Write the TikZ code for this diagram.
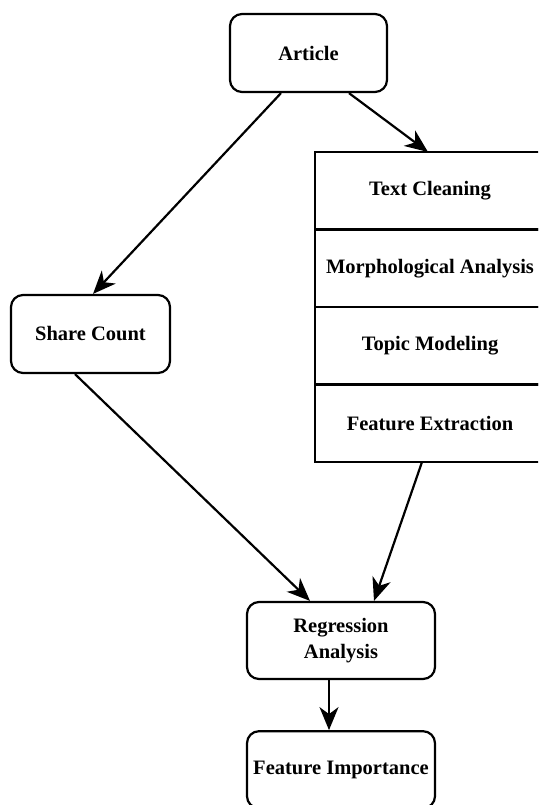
\documentclass[tikz,border=0pt]{standalone}
\usepackage{fontspec}
\setmainfont{Liberation Serif}
\usetikzlibrary{positioning,arrows.meta}

\begin{document}
\begin{tikzpicture}[
  x=1pt, y=-1pt, node distance=0pt, line width=2.2pt,
  font=\fontsize{20.5}{26}\selectfont\bfseries,
  >={Stealth[length=23pt,width=19pt,inset=7pt]},
  box/.style={draw, rounded corners=12pt, align=center, inner sep=0pt, minimum width=157pt, minimum height=78pt},
  wide/.style={box, minimum width=188pt, minimum height=77pt},
  stage/.style={draw, align=center, inner sep=0pt, outer sep=0pt, minimum width=230pt, minimum height=77.5pt},
]
\useasboundingbox (0,0) rectangle (538,805);
\clip (0,0) rectangle (538,805);

\node[box] (art) at (308.5,53) {Article};
\node[box, minimum width=159pt] (share) at (90.5,334) {Share Count};

% pipeline stack
\node[stage, anchor=north west] (clean) at (315,152) {Text Cleaning};
\node[stage, below=of clean] (morph) {Morphological Analysis};
\node[stage, below=of morph] (topic) {Topic Modeling};
\node[stage, below=of topic] (feat) {Feature Extraction};

\node[wide] (reg) at (341,640.5) {Regression\\Analysis};
\node[wide, below=50pt of reg] (imp) {Feature Importance};

\draw[->] ([xshift=-27.5pt]art.south) -- ([xshift=2.5pt]share.north);
\draw[->] ([xshift=40.5pt]art.south) -- ([xshift=-2pt]clean.north);
\draw[->] ([xshift=-15.5pt]share.south) -- ([xshift=-31pt]reg.north);
\draw[->] ([xshift=-8pt]feat.south) -- ([xshift=33pt]reg.north);
\draw[->] ([xshift=-12pt]reg.south) -- ([xshift=-12pt]imp.north);
\end{tikzpicture}
\end{document}
